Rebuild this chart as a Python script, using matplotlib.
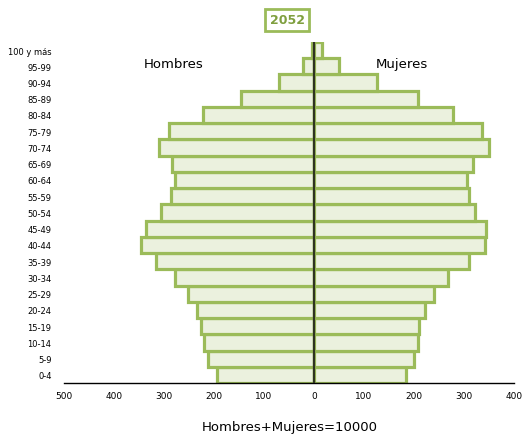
import numpy as np
import matplotlib.pyplot as plt

# Grupos de edad, de menor a mayor
edades = ['0-4', '5-9', '10-14', '15-19', '20-24', '25-29', '30-34', '35-39',
          '40-44', '45-49', '50-54', '55-59', '60-64', '65-69', '70-74',
          '75-79', '80-84', '85-89', '90-94', '95-99', '100 y más']
hombres = [194, 212, 221, 226, 235, 253, 279, 317, 347, 337, 306, 286, 279,
           285, 311, 290, 222, 146, 70, 22, 5]
mujeres = [183, 199, 207, 209, 221, 240, 268, 309, 342, 344, 322, 309, 306,
           318, 350, 336, 278, 208, 125, 50, 15]
xticks = [-500, -400, -300, -200, -100, 0, 100, 200, 300, 400]
xlabels = ['500', '400', '300', '200', '100', '0', '100', '200', '300', '400']

verde = '#9bbb59'
relleno = '#ebf1de'

fig = plt.figure(figsize=(5.26, 4.39), dpi=100)
ax = fig.add_axes([0.1217, 0.1253, 0.8555, 0.777])

y = np.arange(len(edades))
ax.barh(y, [-h for h in hombres], height=1.0, color=relleno, edgecolor=verde, linewidth=2.3)
ax.barh(y, mujeres, height=1.0, color=relleno, edgecolor=verde, linewidth=2.3)
ax.axvline(0, color='#2e3320', linewidth=1.6, zorder=5)

ax.set_xlim(-500, 400)
ax.set_ylim(-0.5, 20.5)
ax.set_xticks(xticks)
ax.set_xticklabels(xlabels, fontsize=6.5)
ax.set_yticks(y)
ax.set_yticklabels(edades, fontsize=6.0)
ax.tick_params(axis='both', length=0)
ax.tick_params(axis='y', pad=9)
ax.tick_params(axis='x', pad=6)
for s in ['top', 'right', 'left']:
    ax.spines[s].set_visible(False)
ax.spines['bottom'].set_color('black')
ax.spines['bottom'].set_linewidth(1.0)

ax.text(-280, 19.2, 'Hombres', fontsize=9.5, ha='center', va='center')
ax.text(176, 19.2, 'Mujeres', fontsize=9.5, ha='center', va='center')

fig.text(0.546, 0.953, '2052', fontsize=9, fontweight='bold', color='#7f9f3f',
         ha='center', va='center',
         bbox=dict(boxstyle='square,pad=0.35', facecolor='white', edgecolor=verde, linewidth=2))
fig.text(0.551, 0.027, 'Hombres+Mujeres=10000', fontsize=9.5, ha='center', va='center')

fig.savefig('out.png', dpi=100)
